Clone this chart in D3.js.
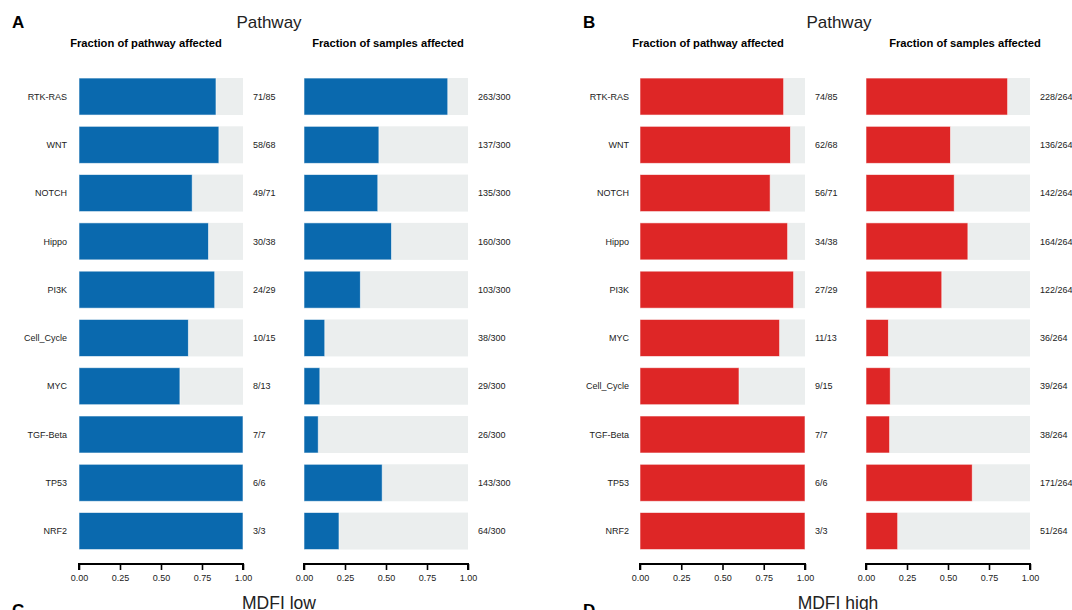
<!DOCTYPE html>
<html>
<head>
<meta charset="utf-8">
<script src="https://cdn.jsdelivr.net/npm/d3@7"></script>
<style>
  html, body { margin: 0; padding: 0; background: #fff; }
  svg { display: block; font-family: "Liberation Sans", Arial, sans-serif; }
</style>
</head>
<body>
<svg id="chart" width="1072" height="610"></svg>
<script>
// Pathway alteration summary, MDFI low vs MDFI high
const pathwaysLow = ["RTK-RAS", "WNT", "NOTCH", "Hippo", "PI3K", "Cell_Cycle", "MYC", "TGF-Beta", "TP53", "NRF2"];
const genesAffectedLow = [71, 58, 49, 30, 24, 10, 8, 7, 6, 3];
const genesTotalLow = [85, 68, 71, 38, 29, 15, 13, 7, 6, 3];
const samplesAffectedLow = [263, 137, 135, 160, 103, 38, 29, 26, 143, 64];
const samplesTotalLow = 300;

const pathwaysHigh = ["RTK-RAS", "WNT", "NOTCH", "Hippo", "PI3K", "MYC", "Cell_Cycle", "TGF-Beta", "TP53", "NRF2"];
const genesAffectedHigh = [74, 62, 56, 34, 27, 11, 9, 7, 6, 3];
const genesTotalHigh = [85, 68, 71, 38, 29, 13, 15, 7, 6, 3];
const samplesAffectedHigh = [228, 136, 142, 164, 122, 36, 39, 38, 171, 51];
const samplesTotalHigh = 264;

const tickValues = [0, 0.25, 0.5, 0.75, 1];

const svg = d3.select("#chart");

function drawSubplot(g, x0, x1, cats, num, den, color, title, titleX) {
  const x = d3.scaleLinear().domain([0, 1]).range([x0, x1]);
  const y = d3.scaleBand().domain(cats).range([72.4, 555.2])
    .paddingInner(0.234).paddingOuter(0.117);

  g.append("text")
    .attr("x", titleX).attr("y", 47)
    .attr("text-anchor", "middle")
    .attr("font-size", 11.2).attr("font-weight", "bold").attr("fill", "#000")
    .text(title);

  const rows = cats.map((c, i) => ({ c, n: num[i], d: den[i] }));

  g.selectAll("rect.bg").data(rows).join("rect")
    .attr("class", "bg")
    .attr("x", x(0)).attr("width", x(1) - x(0))
    .attr("y", d => y(d.c)).attr("height", y.bandwidth())
    .attr("fill", "#ebeeee");

  g.selectAll("rect.fg").data(rows).join("rect")
    .attr("class", "fg")
    .attr("x", x(0)).attr("width", d => x(d.n / d.d) - x(0))
    .attr("y", d => y(d.c)).attr("height", y.bandwidth())
    .attr("fill", color)
    .attr("stroke", "#ffffff").attr("stroke-width", 0.8).attr("stroke-opacity", 0.7);

  g.selectAll("text.cnt").data(rows).join("text")
    .attr("class", "cnt")
    .attr("x", x1 + 10).attr("y", d => y(d.c) + y.bandwidth() / 2)
    .attr("dy", "0.35em")
    .attr("font-size", 9).attr("fill", "#222")
    .text(d => d.n + "/" + d.d);

  const axis = d3.axisBottom(x).tickValues(tickValues).tickFormat(d3.format(".2f"))
    .tickSize(6).tickPadding(5);
  const ag = g.append("g").attr("transform", "translate(0,564)").call(axis);
  ag.select(".domain").attr("stroke", "#000").attr("stroke-width", 2)
    .attr("d", `M${x0},6V0H${x1}V6`);
  ag.selectAll(".tick line").attr("stroke", "#000").attr("stroke-width", 1.6);
  ag.selectAll(".tick text").attr("font-size", 9).attr("fill", "#222")
    .attr("font-family", "Liberation Sans, Arial, sans-serif");
  return y;
}

function drawPanel(letter, letterX, titleX, leftX, sub1, sub2, subTitleX, cats, gA, gT, sA, sT, color, footer, footerX) {
  const g = svg.append("g");
  g.append("text").attr("x", letterX).attr("y", 28)
    .attr("font-size", 17).attr("font-weight", "bold").attr("fill", "#000").text(letter);
  g.append("text").attr("x", titleX).attr("y", 28).attr("text-anchor", "middle")
    .attr("font-size", 17).attr("fill", "#222").text("Pathway");

  const y = drawSubplot(g.append("g"), sub1[0], sub1[1], cats, gA, gT, color, "Fraction of pathway affected", subTitleX[0]);
  drawSubplot(g.append("g"), sub2[0], sub2[1], cats, sA, cats.map(() => sT), color, "Fraction of samples affected", subTitleX[1]);

  g.selectAll("text.cat").data(cats).join("text")
    .attr("class", "cat")
    .attr("x", leftX).attr("y", d => y(d) + y.bandwidth() / 2)
    .attr("dy", "0.35em").attr("text-anchor", "end")
    .attr("font-size", 9).attr("fill", "#222")
    .text(d => d);

  // headings of the next figure row, running off the bottom edge
  g.append("text").attr("x", letterX).attr("y", 616)
    .attr("font-size", 17).attr("font-weight", "bold").attr("fill", "#000").text(footer[0]);
  g.append("text").attr("x", footerX).attr("y", 609).attr("text-anchor", "middle")
    .attr("font-size", 17.5).attr("fill", "#222").text(footer[1]);
}

drawPanel("A", 12, 269, 67, [79, 243], [304, 468], [146, 388], pathwaysLow,
  genesAffectedLow, genesTotalLow, samplesAffectedLow, samplesTotalLow, "#0a69ae", ["C", "MDFI low"], 279);
drawPanel("B", 583, 839, 629, [640, 805], [866, 1030], [708, 965], pathwaysHigh,
  genesAffectedHigh, genesTotalHigh, samplesAffectedHigh, samplesTotalHigh, "#de2626", ["D", "MDFI high"], 838);
</script>
</body>
</html>
